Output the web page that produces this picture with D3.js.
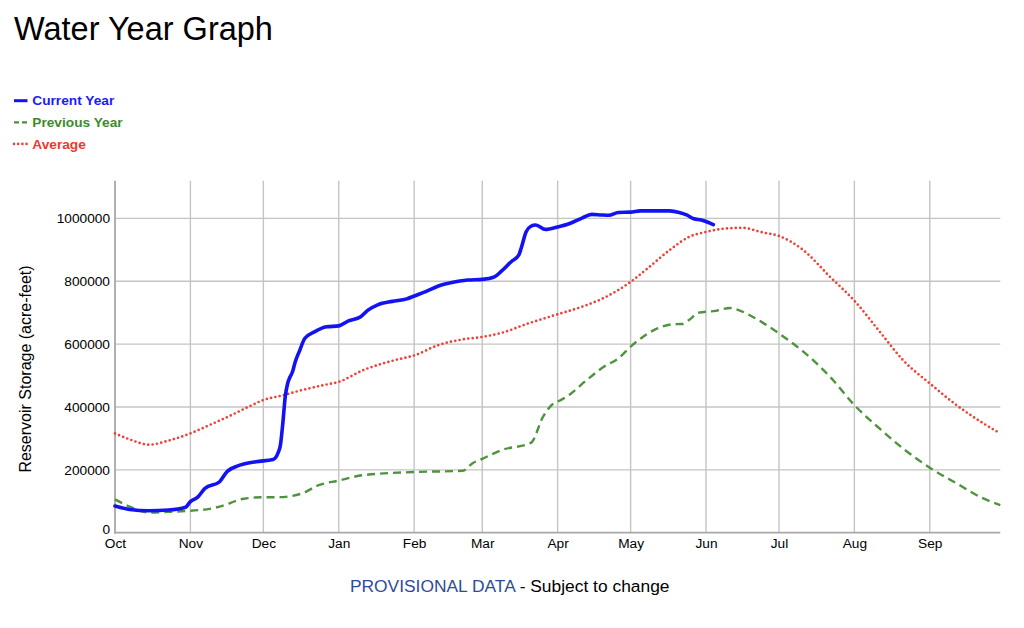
<!DOCTYPE html>
<html>
<head>
<meta charset="utf-8">
<script src="https://cdn.jsdelivr.net/npm/d3@7"></script>
<style>
  html, body { margin: 0; padding: 0; background: #fff; }
  svg { display: block; font-family: "Liberation Sans", Arial, Helvetica, sans-serif; }
</style>
</head>
<body>
<svg id="chart" width="1024" height="628"></svg>
<script>
// ---------- data ----------
const waterYearStart = "2022-10-01";
const waterYearEnd = "2023-09-30";
const monthTicks = ["2022-10-01","2022-11-01","2022-12-01","2023-01-01","2023-02-01","2023-03-01",
                    "2023-04-01","2023-05-01","2023-06-01","2023-07-01","2023-08-01","2023-09-01"];
const monthLabels = ["Oct","Nov","Dec","Jan","Feb","Mar","Apr","May","Jun","Jul","Aug","Sep"];
const yTicks = [0, 200000, 400000, 600000, 800000, 1000000];

const currentDates = ["2022-10-01","2022-10-07","2022-10-15","2022-10-23","2022-10-30","2022-11-01",
  "2022-11-04","2022-11-07","2022-11-13","2022-11-16","2022-11-21","2022-11-28","2022-12-05",
  "2022-12-07","2022-12-08","2022-12-09","2022-12-10","2022-12-11","2022-12-12","2022-12-13",
  "2022-12-14","2022-12-16","2022-12-18","2022-12-22","2022-12-27","2023-01-01","2023-01-05",
  "2023-01-10","2023-01-13","2023-01-17","2023-01-23","2023-01-29","2023-02-01","2023-02-06",
  "2023-02-11","2023-02-16","2023-02-23","2023-03-01","2023-03-06","2023-03-09","2023-03-13",
  "2023-03-16","2023-03-17","2023-03-19","2023-03-21","2023-03-23","2023-03-27","2023-04-01",
  "2023-04-06","2023-04-11","2023-04-15","2023-04-19","2023-04-22","2023-04-26","2023-05-01",
  "2023-05-05","2023-05-10","2023-05-17","2023-05-21","2023-05-24","2023-05-27","2023-05-30",
  "2023-06-02","2023-06-04"];
const currentValues = [85000,74000,70000,72000,81000,99000,
  113000,141000,162000,194000,214000,226000,233000,
  253000,278000,348000,433000,475000,496000,512000,
  541000,581000,618000,639000,655000,658000,674000,
  687000,708000,725000,736000,744000,753000,768000,
  785000,795000,804000,806000,814000,833000,863000,
  883000,905000,957000,975000,979000,965000,973000,
  984000,1001000,1013000,1011000,1010000,1019000,1020000,
  1024000,1024000,1024000,1019000,1011000,999000,995000,
  987000,980000];

const previousDates = ["2022-10-01","2022-10-07","2022-10-15","2022-10-25","2022-11-01","2022-11-09",
  "2022-11-13","2022-11-23","2022-12-01","2022-12-07","2022-12-17","2022-12-23","2023-01-01",
  "2023-01-11","2023-02-01","2023-02-21","2023-02-25","2023-03-01","2023-03-09","2023-03-21",
  "2023-03-26","2023-03-29","2023-04-03","2023-04-06","2023-04-13","2023-04-20","2023-04-26",
  "2023-05-01","2023-05-06","2023-05-12","2023-05-18","2023-05-22","2023-05-25","2023-05-29",
  "2023-06-05","2023-06-11","2023-06-13","2023-06-19","2023-06-26","2023-07-01","2023-07-11",
  "2023-07-22","2023-08-01","2023-08-12","2023-08-21","2023-09-01","2023-09-12","2023-09-23",
  "2023-09-30"];
const previousValues = [106000,83000,64000,67000,70000,76000,
  83000,108000,113000,113000,125000,149000,166000,
  183000,193000,197000,221000,235000,263000,286000,
  369000,402000,425000,440000,486000,528000,555000,
  592000,623000,650000,663000,664000,677000,700000,
  706000,715000,712000,692000,660000,634000,576000,
  496000,406000,327000,268000,207000,157000,109000,
  88000];

const averageDates = ["2022-10-01","2022-10-07","2022-10-15","2022-10-23","2022-11-01","2022-11-09",
  "2022-11-17","2022-11-25","2022-12-01","2022-12-09","2022-12-17","2022-12-26","2023-01-01",
  "2023-01-11","2023-01-24","2023-02-01","2023-02-11","2023-02-21","2023-03-01","2023-03-09",
  "2023-03-20","2023-04-01","2023-04-11","2023-04-20","2023-05-01","2023-05-08","2023-05-17",
  "2023-05-25","2023-06-01","2023-06-08","2023-06-16","2023-06-24","2023-07-01","2023-07-11",
  "2023-07-22","2023-08-01","2023-08-12","2023-08-21","2023-09-01","2023-09-12","2023-09-23",
  "2023-09-30"];
const averageValues = [316000,297000,280000,293000,316000,343000,
  371000,401000,422000,437000,454000,470000,480000,
  517000,549000,564000,597000,615000,623000,636000,
  666000,695000,719000,747000,798000,841000,899000,
  941000,957000,967000,970000,956000,944000,899000,
  814000,738000,634000,549000,475000,406000,348000,
  316000];

// ---------- drawing ----------
const parse = d3.timeParse("%Y-%m-%d");
const svg = d3.select("#chart");

const plotLeft = 115, plotRight = 1000.3, plotTop = 180.7, plotBottom = 532.7;

const x = d3.scaleTime()
  .domain([parse(waterYearStart), parse(waterYearEnd)])
  .range([plotLeft, plotRight]);
const y = d3.scaleLinear()
  .domain([0, 1120000])
  .range([plotBottom, plotTop]);

// title
svg.append("text")
  .attr("x", 14).attr("y", 40)
  .attr("font-size", 32.5)
  .attr("fill", "#000")
  .text("Water Year Graph");

// legend
const legendItems = [
  {label: "Current Year", color: "#1212f2", dash: null, width: 3, cap: "butt", textColor: "#1a1aff"},
  {label: "Previous Year", color: "#4a8f3a", dash: "5,3", width: 2.3, cap: "butt", textColor: "#3d8a2e"},
  {label: "Average", color: "#ef4136", dash: "0,4.2", width: 2.6, cap: "round", textColor: "#ee3a2e"}
];
legendItems.forEach((d, i) => {
  const ly = 100.7 + i * 21.6;
  svg.append("line")
    .attr("x1", 14).attr("x2", 27.5).attr("y1", ly).attr("y2", ly)
    .attr("stroke", d.color).attr("stroke-width", d.width)
    .attr("stroke-linecap", d.cap)
    .attr("stroke-dasharray", d.dash);
  svg.append("text")
    .attr("x", 32.3).attr("y", ly + 4.6)
    .attr("font-size", 13.7)
    .attr("font-weight", "bold")
    .attr("fill", d.textColor)
    .text(d.label);
});

// gridlines
const grid = svg.append("g");
grid.selectAll("line.h")
  .data(yTicks.filter(t => t > 0))
  .join("line")
  .attr("class", "h")
  .attr("x1", plotLeft).attr("x2", plotRight)
  .attr("y1", d => y(d)).attr("y2", d => y(d))
  .attr("stroke", "#c4c4c4").attr("stroke-width", 1.4);
grid.selectAll("line.v")
  .data(monthTicks.slice(1).map(parse))
  .join("line")
  .attr("class", "v")
  .attr("x1", d => x(d)).attr("x2", d => x(d))
  .attr("y1", plotTop).attr("y2", plotBottom)
  .attr("stroke", "#c4c4c4").attr("stroke-width", 1.4);

// axes
const yAxis = d3.axisLeft(y).tickValues(yTicks).tickFormat(d3.format("d")).tickSize(0).tickPadding(5);
const gy = svg.append("g").attr("transform", `translate(${plotLeft},0)`).call(yAxis);
gy.select(".domain").remove();
gy.selectAll("text").attr("font-size", 13.7).attr("fill", "#000")
  .attr("font-family", "'Liberation Sans', Arial, sans-serif");
gy.selectAll(".tick").filter(d => d === 0).select("text").attr("dy", "0.05em");

const xAxis = d3.axisBottom(x).tickValues(monthTicks.map(parse))
  .tickFormat((d, i) => monthLabels[i]).tickSize(0).tickPadding(6);
const gx = svg.append("g").attr("transform", `translate(0,${plotBottom})`).call(xAxis);
gx.select(".domain").remove();
gx.selectAll("text").attr("font-size", 13.7).attr("fill", "#000")
  .attr("font-family", "'Liberation Sans', Arial, sans-serif");

svg.append("line").attr("x1", plotLeft).attr("x2", plotLeft).attr("y1", plotTop).attr("y2", plotBottom + 1)
  .attr("stroke", "#a8a8a8").attr("stroke-width", 1.8);
svg.append("line").attr("x1", plotLeft - 1).attr("x2", plotRight).attr("y1", plotBottom).attr("y2", plotBottom)
  .attr("stroke", "#a8a8a8").attr("stroke-width", 1.8);

// y title
svg.append("text")
  .attr("transform", `translate(27,369) rotate(-90)`)
  .attr("text-anchor", "middle")
  .attr("dominant-baseline", "middle")
  .attr("font-size", 16)
  .attr("fill", "#000")
  .text("Reservoir Storage (acre-feet)");

// series
const line = d3.line()
  .x(d => x(d[0])).y(d => y(d[1]))
  .curve(d3.curveMonotoneX);
const zip = (ds, vs) => ds.map((d, i) => [parse(d), vs[i]]);

svg.append("path")
  .datum(zip(averageDates, averageValues))
  .attr("d", line)
  .attr("fill", "none")
  .attr("stroke", "#ef4136")
  .attr("stroke-width", 2.7)
  .attr("stroke-linecap", "round")
  .attr("stroke-dasharray", "0,4.4");

svg.append("path")
  .datum(zip(previousDates, previousValues))
  .attr("d", line)
  .attr("fill", "none")
  .attr("stroke", "#4f933e")
  .attr("stroke-width", 2.4)
  .attr("stroke-dasharray", "8,5");

svg.append("path")
  .datum(zip(currentDates, currentValues))
  .attr("d", line)
  .attr("fill", "none")
  .attr("stroke", "#1212f2")
  .attr("stroke-width", 3.6)
  .attr("stroke-linejoin", "round")
  .attr("stroke-linecap", "round");

// footer
const foot = svg.append("text")
  .attr("x", 509.7).attr("y", 592)
  .attr("text-anchor", "middle")
  .attr("font-size", 17.4);
foot.append("tspan").attr("fill", "#2e4b9b").text("PROVISIONAL DATA");
foot.append("tspan").attr("fill", "#000").text(" - Subject to change");
</script>
</body>
</html>
